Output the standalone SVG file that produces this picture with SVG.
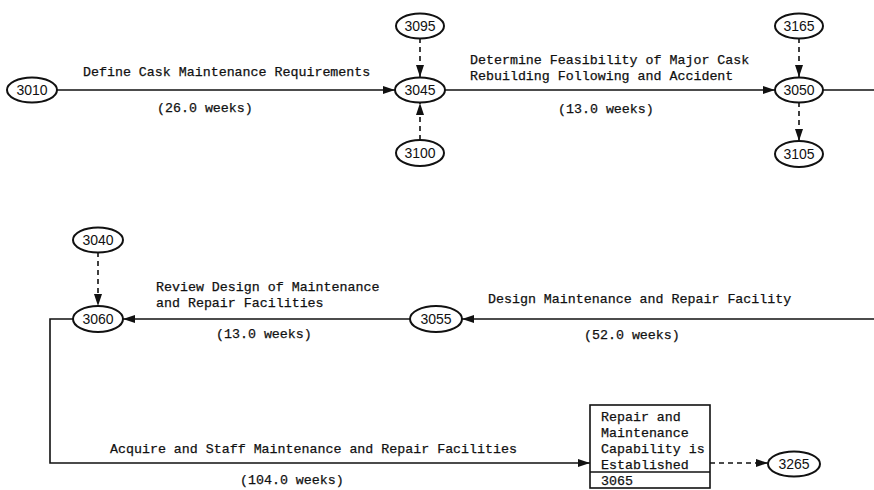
<svg xmlns="http://www.w3.org/2000/svg" width="874" height="490" viewBox="0 0 874 490">
  <defs>
    <marker id="arr" viewBox="0 0 12 8" refX="12" refY="4" markerWidth="12" markerHeight="8" markerUnits="userSpaceOnUse" orient="auto">
      <path d="M0,0 L12,4 L0,8 Z" fill="#111"/>
    </marker>
  </defs>
  <style>
    .ev ellipse { fill: #fff; stroke: #111; stroke-width: 2; }
    .ev text { font-family: "Liberation Sans", Arial, sans-serif; font-size: 14px; fill: #111; text-anchor: middle; }
    .act { fill: none; stroke: #111; stroke-width: 1.6; }
    .dum { fill: none; stroke: #111; stroke-width: 1.6; stroke-dasharray: 5 4; }
    .lbl { font-family: "Liberation Mono", "Courier New", monospace; font-size: 13.3px; fill: #111; stroke: #111; stroke-width: 0.25; }
    .box rect { fill: #fff; stroke: #111; stroke-width: 1.6; }
  </style>

  <rect width="874" height="490" fill="#fff"/>

  <!-- connectors -->
  <g id="connectors">
    <path class="act" d="M56,90 H395" marker-end="url(#arr)"/>
    <path class="dum" d="M420,38 V77" marker-end="url(#arr)"/>
    <path class="dum" d="M420,140 V103" marker-end="url(#arr)"/>
    <path class="act" d="M445,90 H775" marker-end="url(#arr)"/>
    <path class="dum" d="M799,38 V77" marker-end="url(#arr)"/>
    <path class="dum" d="M799,102 V141" marker-end="url(#arr)"/>
    <path class="act" d="M823,90 H874"/>
    <path class="act" d="M874,319 H462" marker-end="url(#arr)"/>
    <path class="act" d="M410,319 H123" marker-end="url(#arr)"/>
    <path class="dum" d="M98,252 V306" marker-end="url(#arr)"/>
    <path class="act" d="M73,319 H50 V463 H590" marker-end="url(#arr)"/>
    <path class="dum" d="M710,463 H768" marker-end="url(#arr)"/>
  </g>

  <!-- activity labels -->
  <g id="labels">
    <text class="lbl" x="83" y="76">Define Cask Maintenance Requirements</text>
    <text class="lbl" x="157" y="112">(26.0 weeks)</text>
    <text class="lbl" x="470" y="64">Determine Feasibility of Major Cask</text>
    <text class="lbl" x="470" y="80">Rebuilding Following and Accident</text>
    <text class="lbl" x="558" y="113">(13.0 weeks)</text>
    <text class="lbl" x="488" y="303">Design Maintenance and Repair Facility</text>
    <text class="lbl" x="584" y="339">(52.0 weeks)</text>
    <text class="lbl" x="156" y="291">Review Design of Maintenance</text>
    <text class="lbl" x="156" y="307">and Repair Facilities</text>
    <text class="lbl" x="216" y="338">(13.0 weeks)</text>
    <text class="lbl" x="110" y="453">Acquire and Staff Maintenance and Repair Facilities</text>
    <text class="lbl" x="240" y="484">(104.0 weeks)</text>
  </g>

  <!-- events -->
  <g id="n3010" class="ev"><ellipse cx="32" cy="90" rx="25" ry="12.5"/><text x="32" y="95">3010</text></g>
  <g id="n3095" class="ev"><ellipse cx="420" cy="26" rx="24" ry="12.5"/><text x="420" y="31">3095</text></g>
  <g id="n3045" class="ev"><ellipse cx="420" cy="90" rx="25" ry="12.5"/><text x="420" y="95">3045</text></g>
  <g id="n3100" class="ev"><ellipse cx="420" cy="153" rx="24" ry="13"/><text x="420" y="158">3100</text></g>
  <g id="n3165" class="ev"><ellipse cx="799" cy="26" rx="24" ry="12.5"/><text x="799" y="31">3165</text></g>
  <g id="n3050" class="ev"><ellipse cx="799" cy="90" rx="24" ry="12.5"/><text x="799" y="95">3050</text></g>
  <g id="n3105" class="ev"><ellipse cx="799" cy="154" rx="24" ry="13"/><text x="799" y="159">3105</text></g>
  <g id="n3040" class="ev"><ellipse cx="98" cy="240" rx="25" ry="12.5"/><text x="98" y="245">3040</text></g>
  <g id="n3060" class="ev"><ellipse cx="98" cy="319" rx="25" ry="13"/><text x="98" y="324">3060</text></g>
  <g id="n3055" class="ev"><ellipse cx="436" cy="319" rx="26" ry="13"/><text x="436" y="324">3055</text></g>
  <g id="n3265" class="ev"><ellipse cx="794" cy="464" rx="26" ry="12.5"/><text x="794" y="469">3265</text></g>

  <!-- milestone -->
  <g id="n3065" class="box">
    <rect x="590" y="405" width="120" height="83"/>
    <line x1="590" y1="472" x2="710" y2="472" stroke="#111" stroke-width="1.6"/>
    <text class="lbl" x="601" y="421">Repair and</text>
    <text class="lbl" x="601" y="437">Maintenance</text>
    <text class="lbl" x="601" y="453">Capability is</text>
    <text class="lbl" x="601" y="469">Established</text>
    <text class="lbl" x="601" y="485">3065</text>
  </g>
</svg>
